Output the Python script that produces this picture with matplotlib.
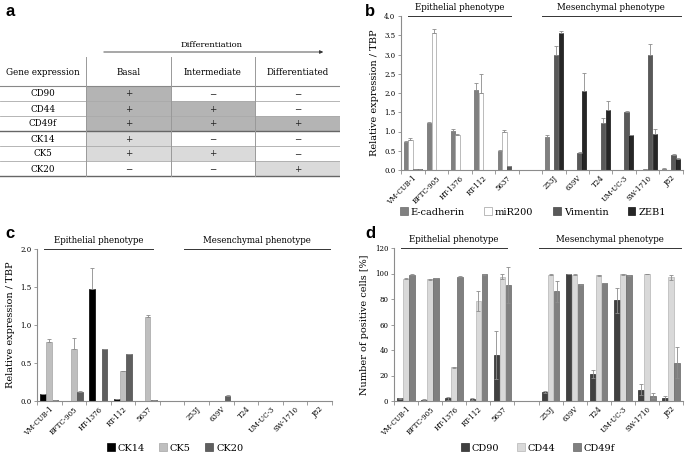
import matplotlib
matplotlib.use('Agg')
import matplotlib.pyplot as plt
import matplotlib.transforms as mtransforms
from matplotlib.patches import Rectangle
import numpy as np

plt.rcParams['font.family'] = ['DejaVu Serif']

# ---- panel a: table ----
genes = ['CD90', 'CD44', 'CD49f', 'CK14', 'CK5', 'CK20']
stages = ['Basal', 'Intermediate', 'Differentiated']
expr = [[1, 0, 0],
        [1, 1, 0],
        [1, 1, 1],
        [1, 0, 0],
        [1, 1, 0],
        [0, 0, 1]]

# ---- shared cell lines ----
cell_lines = ['VM-CUB-1', 'BFTC-905', 'HT-1376', 'RT-112', '5637',
              '253J', '639V', 'T24', 'UM-UC-3', 'SW-1710', 'J82']

# ---- panel b ----
ecad = [0.72, 1.22, 1.01, 2.07, 0.50, 0.87, 0.01, 0.01, 0.01, 0.01, 0.03]
ecad_err = [0.03, 0.02, 0.05, 0.18, 0.01, 0.03, 0, 0, 0, 0, 0.01]
mir200 = [0.78, 3.57, 0.92, 2.00, 0.99, 0, 0, 0, 0, 0.02, 0]
mir200_err = [0.04, 0.10, 0.02, 0.50, 0.05, 0, 0, 0, 0, 0, 0]
vim = [0.02, 0.01, 0.01, 0.01, 0.10, 3.00, 0.44, 1.23, 1.51, 3.00, 0.38]
vim_err = [0, 0, 0, 0, 0.01, 0.22, 0.02, 0.13, 0.01, 0.28, 0.03]
zeb1 = [0.02, 0, 0, 0, 0, 3.56, 2.05, 1.55, 0.90, 0.94, 0.29]
zeb1_err = [0, 0, 0, 0, 0, 0.05, 0.46, 0.25, 0.01, 0.13, 0.02]

# ---- panel c ----
ck14 = [0.09, 0.0, 1.47, 0.02, 0, 0, 0, 0, 0, 0, 0]
ck14_err = [0, 0, 0.28, 0.01, 0, 0, 0, 0, 0, 0, 0]
ck5 = [0.77, 0.69, 0, 0.39, 1.10, 0, 0, 0, 0, 0, 0]
ck5_err = [0.04, 0.14, 0, 0, 0.03, 0, 0, 0, 0, 0, 0]
ck20 = [0.01, 0.12, 0.69, 0.62, 0.01, 0, 0.07, 0.005, 0, 0, 0]
ck20_err = [0, 0.01, 0, 0, 0, 0, 0.01, 0, 0, 0, 0]

# ---- panel d ----
cd90 = [2, 1, 2, 1.5, 36, 7, 100, 21, 79, 9, 2]
cd90_err = [0.3, 0.3, 1.5, 0.5, 19, 0.5, 0, 3, 10, 4, 2]
cd44 = [96, 95.5, 26.5, 78.5, 97.5, 99, 99, 98.5, 99.5, 99.5, 97]
cd44_err = [0.5, 0.5, 0.5, 8, 2, 0.3, 0.3, 0.3, 0.3, 0.2, 2]
cd49f = [99, 96.5, 97.5, 99.5, 91, 86, 91.5, 92.5, 98.5, 4, 30]
cd49f_err = [0.3, 0.3, 0.3, 0.3, 14, 8, 0.3, 0.3, 0.3, 2, 12]

pos = np.array(list(range(5)) + list(range(6, 12)))
AX_COL = '#8c8c8c'

fig = plt.figure(figsize=(6.85, 4.54), dpi=100)


def style_axis(ax, ymax, ystep, fmt, ylabel):
    ax.set_xlim(-0.5, 11.5)
    ax.set_ylim(0, ymax)
    ax.set_yticks(np.arange(0, ymax + ystep / 2, ystep))
    ax.set_yticklabels([fmt.format(v) for v in np.arange(0, ymax + ystep / 2, ystep)], fontsize=5)
    ax.set_xticks(np.arange(-0.5, 12, 1))
    ax.set_xticklabels([])
    ax.set_xticks(pos, minor=True)
    ax.set_xticklabels(cell_lines, minor=True, rotation=45, ha='right',
                       rotation_mode='anchor', fontsize=5)
    ax.tick_params(axis='x', which='major', length=3, width=0.6, color=AX_COL)
    ax.tick_params(axis='x', which='minor', length=0, pad=3)
    ax.tick_params(axis='y', length=2, width=0.6, color=AX_COL, pad=2)
    for s in ['top', 'right']:
        ax.spines[s].set_visible(False)
    for s in ['left', 'bottom']:
        ax.spines[s].set_color(AX_COL)
        ax.spines[s].set_linewidth(0.8)
    ax.set_ylabel(ylabel, fontsize=7)
    tr = mtransforms.blended_transform_factory(ax.transData, ax.transAxes)
    for (x0, x1, name) in [(-0.2, 4.2, 'Epithelial phenotype'),
                           (5.5, 11.4, 'Mesenchymal phenotype')]:
        ax.plot([x0, x1], [1.0, 1.0], color='#333333', lw=0.7, transform=tr, clip_on=False)
        ax.text((x0 + x1) / 2, 1.025, name, transform=tr, ha='center', va='bottom', fontsize=6.2)


def draw_bars(ax, series, errs, colors, edges, offsets, width, names, sym=False):
    handles = []
    for vals, err, c, ec, off, nm in zip(series, errs, colors, edges, offsets, names):
        e = np.array(err)
        yerr = [e, e] if sym else [np.zeros_like(e), e]
        h = ax.bar(pos + off, vals, width, color=c, edgecolor=ec, linewidth=0.5,
                   yerr=yerr, error_kw=dict(ecolor='#8c8c8c', elinewidth=0.6, capsize=1.2, capthick=0.6),
                   label=nm)
        handles.append(h)
    return handles


# ---- panel a drawing ----
axa = fig.add_axes([0, 0, 340 / 685, 1])
axa.set_xlim(0, 340)
axa.set_ylim(454, 0)
axa.axis('off')
col_x = [0, 86, 171, 255, 340]
head_top, head_bot, row_h = 57, 86, 15
dark_fill, light_fill = '#b4b4b4', '#dadada'
TFS = 6.3
for i, g in enumerate(genes):
    y0 = head_bot + i * row_h
    for j in range(3):
        if expr[i][j]:
            fill = dark_fill if g.startswith('CD') else light_fill
            axa.add_patch(Rectangle((col_x[j + 1], y0), col_x[j + 2] - col_x[j + 1], row_h,
                                    facecolor=fill, edgecolor='none'))
        axa.text((col_x[j + 1] + col_x[j + 2]) / 2, y0 + row_h / 2 + 0.5,
                 '+' if expr[i][j] else '\u2212', ha='center', va='center', fontsize=TFS, color='#222222')
    axa.text(col_x[1] / 2, y0 + row_h / 2 + 0.5, g, ha='center', va='center', fontsize=TFS)
    lw, lc = (1.0, '#666666') if i in (2, 5) else (0.6, '#aaaaaa')
    axa.plot([0, 340], [y0 + row_h, y0 + row_h], color=lc, lw=lw)
axa.plot([0, 340], [head_bot, head_bot], color='#888888', lw=0.8)
for x in col_x[1:4]:
    axa.plot([x, x], [head_top, head_bot + len(genes) * row_h], color='#999999', lw=0.7)
axa.text(col_x[1] / 2, (head_top + head_bot) / 2 + 1, 'Gene expression', ha='center', va='center', fontsize=TFS)
for j, s in enumerate(stages):
    axa.text((col_x[j + 1] + col_x[j + 2]) / 2, (head_top + head_bot) / 2 + 1, s,
             ha='center', va='center', fontsize=TFS)
axa.annotate('', xy=(326, 52), xytext=(101, 52),
             arrowprops=dict(arrowstyle='-|>', lw=0.6, color='#333333', mutation_scale=5))
axa.text(212, 45, 'Differentiation', ha='center', va='center', fontsize=6)

# ---- panel b drawing ----
axb = fig.add_axes([401 / 685, (454 - 170) / 454, 282 / 685, 154 / 454])
hb = draw_bars(axb, [ecad, mir200, vim, zeb1], [ecad_err, mir200_err, vim_err, zeb1_err],
               ['#808080', '#ffffff', '#595959', '#262626'],
               ['#6a6a6a', '#a0a0a0', '#444444', '#111111'],
               [-0.3, -0.1, 0.1, 0.3], 0.18, ['E-cadherin', 'miR200', 'Vimentin', 'ZEB1'])
style_axis(axb, 4.0, 0.5, '{:.1f}', 'Relative expression / TBP')
axb.legend(handles=hb, loc='center', bbox_to_anchor=(533 / 685, 1 - 212 / 454),
           bbox_transform=fig.transFigure, ncol=4, frameon=False, fontsize=7,
           handlelength=0.8, handleheight=0.8, handletextpad=0.3, columnspacing=2.0)

# ---- panel c drawing ----
axc = fig.add_axes([37 / 685, (454 - 401) / 454, 295 / 685, 152 / 454])
hc = draw_bars(axc, [ck14, ck5, ck20], [ck14_err, ck5_err, ck20_err],
               ['#000000', '#bfbfbf', '#5f5f5f'],
               ['#000000', '#a5a5a5', '#4a4a4a'],
               [-0.25, 0, 0.25], 0.23, ['CK14', 'CK5', 'CK20'])
style_axis(axc, 2.0, 0.5, '{:.1f}', 'Relative expression / TBP')
axc.legend(handles=hc, loc='center', bbox_to_anchor=(175 / 685, 1 - 448 / 454),
           bbox_transform=fig.transFigure, ncol=3, frameon=False, fontsize=7,
           handlelength=0.8, handleheight=0.8, handletextpad=0.3, columnspacing=1.5)

# ---- panel d drawing ----
axd = fig.add_axes([394 / 685, (454 - 401) / 454, 289 / 685, 153 / 454])
hd = draw_bars(axd, [cd90, cd44, cd49f], [cd90_err, cd44_err, cd49f_err],
               ['#404040', '#d9d9d9', '#808080'],
               ['#2a2a2a', '#b5b5b5', '#666666'],
               [-0.25, 0, 0.25], 0.23, ['CD90', 'CD44', 'CD49f'], sym=True)
style_axis(axd, 120, 20, '{:.0f}', 'Number of positive cells [%]')
axd.legend(handles=hd, loc='center', bbox_to_anchor=(538 / 685, 1 - 448 / 454),
           bbox_transform=fig.transFigure, ncol=3, frameon=False, fontsize=7,
           handlelength=0.8, handleheight=0.8, handletextpad=0.3, columnspacing=1.8)

# panel letters
for lab, x, y in [('a', 5, 12), ('b', 365, 12), ('c', 5, 233), ('d', 365, 233)]:
    fig.text(x / 685, 1 - y / 454, lab, fontsize=12, fontweight='bold',
             family='Liberation Sans', ha='left', va='center')

fig.savefig('out.png', dpi=100)
